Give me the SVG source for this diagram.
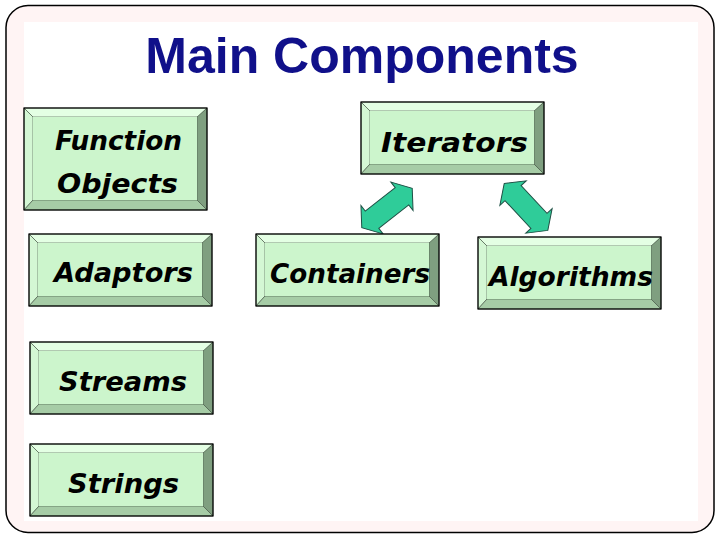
<svg xmlns="http://www.w3.org/2000/svg" xmlns:xlink="http://www.w3.org/1999/xlink" width="720" height="540" viewBox="0 0 720 540">
<style>
.top{fill:#e4ffe4;stroke:#3a4a3a;stroke-width:0.6}
.left{fill:#d4f7d4;stroke:#3a4a3a;stroke-width:0.6}
.right{fill:#7f9f80;stroke:#3a4a3a;stroke-width:0.6}
.bot{fill:#a6cca6;stroke:#3a4a3a;stroke-width:0.6}
.face{fill:#ccf5cc}
.edge{fill:none;stroke:#000;stroke-width:1.2}
.lbl{font-family:"DejaVu Sans","Liberation Sans",sans-serif;font-style:italic;font-weight:bold;font-size:27px;fill:#000}
.arr{fill:#2fcc99;stroke:#1e4f44;stroke-width:1}
</style>
<defs>
<g id="bevel">
<polygon class="top" points="0,0 183,0 174,9 9,9"/>
<polygon class="left" points="0,0 9,9 9,62 0,72"/>
<polygon class="right" points="183,0 183,72 173,62 173,9"/>
<polygon class="bot" points="0,72 9,62 173,62 183,72"/>
<rect class="face" x="9" y="9" width="164" height="53"/>
<rect class="edge" x="0" y="0" width="183" height="72"/>
</g>
<path id="dbl" d="M-32,0 L-19,-18 L-19,-11 L19,-11 L19,-18 L32,0 L19,18 L19,11 L-19,11 L-19,18 Z"/>
</defs>
<rect x="6" y="5.5" width="708" height="527" rx="22" fill="#fff4f4" stroke="#000" stroke-width="1.5"/>
<rect x="24" y="22" width="674" height="499" fill="#fff"/>
<text x="362" y="73" text-anchor="middle" font-family="'Liberation Sans',Arial,sans-serif" font-weight="bold" font-size="50" fill="#10108a">Main Components</text>
<g id="connectors">
<use xlink:href="#dbl" class="arr" transform="translate(387,208) rotate(-38)"/>
<use xlink:href="#dbl" class="arr" transform="translate(526,207) rotate(47)"/>
</g>
<g id="function-objects">
<polygon class="top" points="24,108 207,108 198,117 33,117"/>
<polygon class="left" points="24,108 33,117 33,200 24,210"/>
<polygon class="right" points="207,108 207,210 197,200 197,117"/>
<polygon class="bot" points="24,210 33,200 197,200 207,210"/>
<rect class="face" x="33" y="117" width="164" height="83"/>
<rect class="edge" x="24" y="108" width="183" height="102"/>
<text class="lbl" x="55" y="150" textLength="127" lengthAdjust="spacingAndGlyphs">Function</text>
<text class="lbl" x="57" y="193" textLength="121" lengthAdjust="spacingAndGlyphs">Objects</text>
</g>
<g id="iterators">
<use xlink:href="#bevel" x="361" y="102"/>
<text class="lbl" x="381" y="152" textLength="147" lengthAdjust="spacingAndGlyphs">Iterators</text>
</g>
<g id="adaptors">
<use xlink:href="#bevel" x="29" y="234"/>
<text class="lbl" x="54" y="282" textLength="139" lengthAdjust="spacingAndGlyphs">Adaptors</text>
</g>
<g id="containers">
<use xlink:href="#bevel" x="256" y="234"/>
<text class="lbl" x="270" y="283" textLength="160" lengthAdjust="spacingAndGlyphs">Containers</text>
</g>
<g id="algorithms">
<use xlink:href="#bevel" x="478" y="237"/>
<text class="lbl" x="489" y="286" textLength="164" lengthAdjust="spacingAndGlyphs">Algorithms</text>
</g>
<g id="streams">
<use xlink:href="#bevel" x="30" y="342"/>
<text class="lbl" x="59" y="391" textLength="128" lengthAdjust="spacingAndGlyphs">Streams</text>
</g>
<g id="strings">
<use xlink:href="#bevel" x="30" y="444"/>
<text class="lbl" x="68" y="493" textLength="111" lengthAdjust="spacingAndGlyphs">Strings</text>
</g>
</svg>
